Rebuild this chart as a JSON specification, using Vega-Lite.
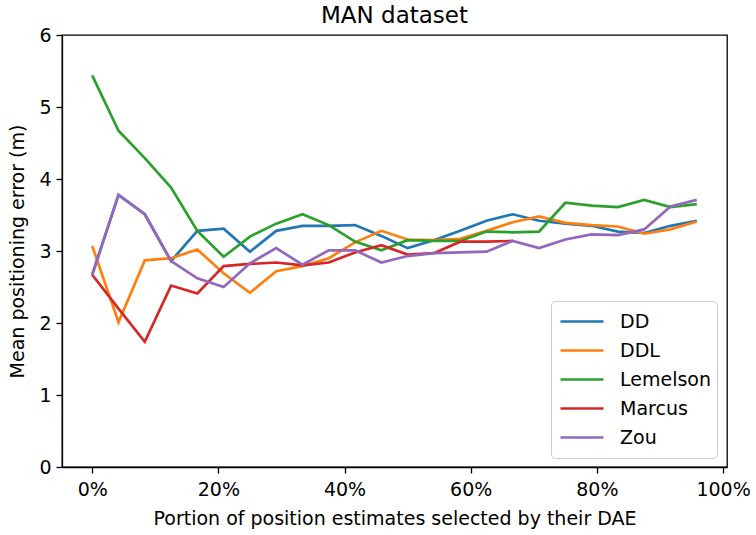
{
  "$schema": "https://vega.github.io/schema/vega-lite/v6.json",
  "width": 665,
  "height": 432,
  "autosize": {"type": "none"},
  "padding": {"left": 62, "top": 35, "right": 29, "bottom": 68},
  "background": "white",
  "title": {"text": "MAN dataset", "fontSize": 23, "fontWeight": "normal", "font": "DejaVu Sans", "color": "black", "offset": -2, "anchor": "middle"},
  "config": {
    "view": {"stroke": "black", "strokeWidth": 1.3},
    "axis": {"grid": false, "domainColor": "black", "tickColor": "black", "labelColor": "black", "titleColor": "black", "labelFont": "DejaVu Sans", "titleFont": "DejaVu Sans", "labelFontSize": 19, "titleFontSize": 19, "titleFontWeight": "normal", "tickSize": 6, "domainWidth": 1.3, "tickWidth": 1.3, "labelPadding": 5}
  },
  "data": {"values": [
    {"x": 0, "method": "DD", "y": 2.67},
    {"x": 4.1667, "method": "DD", "y": 3.78},
    {"x": 8.3333, "method": "DD", "y": 3.51},
    {"x": 12.5, "method": "DD", "y": 2.86},
    {"x": 16.6667, "method": "DD", "y": 3.28},
    {"x": 20.8333, "method": "DD", "y": 3.31},
    {"x": 25, "method": "DD", "y": 2.99},
    {"x": 29.1667, "method": "DD", "y": 3.28},
    {"x": 33.3333, "method": "DD", "y": 3.35},
    {"x": 37.5, "method": "DD", "y": 3.35},
    {"x": 41.6667, "method": "DD", "y": 3.36},
    {"x": 45.8333, "method": "DD", "y": 3.21},
    {"x": 50, "method": "DD", "y": 3.04},
    {"x": 54.1667, "method": "DD", "y": 3.15},
    {"x": 58.3333, "method": "DD", "y": 3.28},
    {"x": 62.5, "method": "DD", "y": 3.42},
    {"x": 66.6667, "method": "DD", "y": 3.51},
    {"x": 70.8333, "method": "DD", "y": 3.42},
    {"x": 75, "method": "DD", "y": 3.38},
    {"x": 79.1667, "method": "DD", "y": 3.35},
    {"x": 83.3333, "method": "DD", "y": 3.27},
    {"x": 87.5, "method": "DD", "y": 3.25},
    {"x": 91.6667, "method": "DD", "y": 3.35},
    {"x": 95.8333, "method": "DD", "y": 3.42},
    {"x": 0, "method": "DDL", "y": 3.07},
    {"x": 4.1667, "method": "DDL", "y": 2.01},
    {"x": 8.3333, "method": "DDL", "y": 2.87},
    {"x": 12.5, "method": "DDL", "y": 2.9},
    {"x": 16.6667, "method": "DDL", "y": 3.02},
    {"x": 20.8333, "method": "DDL", "y": 2.69},
    {"x": 25, "method": "DDL", "y": 2.42},
    {"x": 29.1667, "method": "DDL", "y": 2.72},
    {"x": 33.3333, "method": "DDL", "y": 2.79},
    {"x": 37.5, "method": "DDL", "y": 2.9},
    {"x": 41.6667, "method": "DDL", "y": 3.12},
    {"x": 45.8333, "method": "DDL", "y": 3.28},
    {"x": 50, "method": "DDL", "y": 3.16},
    {"x": 54.1667, "method": "DDL", "y": 3.15},
    {"x": 58.3333, "method": "DDL", "y": 3.17},
    {"x": 62.5, "method": "DDL", "y": 3.28},
    {"x": 66.6667, "method": "DDL", "y": 3.4},
    {"x": 70.8333, "method": "DDL", "y": 3.48},
    {"x": 75, "method": "DDL", "y": 3.39},
    {"x": 79.1667, "method": "DDL", "y": 3.36},
    {"x": 83.3333, "method": "DDL", "y": 3.34},
    {"x": 87.5, "method": "DDL", "y": 3.24},
    {"x": 91.6667, "method": "DDL", "y": 3.3},
    {"x": 95.8333, "method": "DDL", "y": 3.41},
    {"x": 0, "method": "Lemelson", "y": 5.44},
    {"x": 4.1667, "method": "Lemelson", "y": 4.67},
    {"x": 8.3333, "method": "Lemelson", "y": 4.29},
    {"x": 12.5, "method": "Lemelson", "y": 3.88},
    {"x": 16.6667, "method": "Lemelson", "y": 3.28},
    {"x": 20.8333, "method": "Lemelson", "y": 2.92},
    {"x": 25, "method": "Lemelson", "y": 3.2},
    {"x": 29.1667, "method": "Lemelson", "y": 3.38},
    {"x": 33.3333, "method": "Lemelson", "y": 3.51},
    {"x": 37.5, "method": "Lemelson", "y": 3.36},
    {"x": 41.6667, "method": "Lemelson", "y": 3.13},
    {"x": 45.8333, "method": "Lemelson", "y": 3.01},
    {"x": 50, "method": "Lemelson", "y": 3.15},
    {"x": 54.1667, "method": "Lemelson", "y": 3.14},
    {"x": 58.3333, "method": "Lemelson", "y": 3.14},
    {"x": 62.5, "method": "Lemelson", "y": 3.27},
    {"x": 66.6667, "method": "Lemelson", "y": 3.26},
    {"x": 70.8333, "method": "Lemelson", "y": 3.27},
    {"x": 75, "method": "Lemelson", "y": 3.67},
    {"x": 79.1667, "method": "Lemelson", "y": 3.63},
    {"x": 83.3333, "method": "Lemelson", "y": 3.61},
    {"x": 87.5, "method": "Lemelson", "y": 3.71},
    {"x": 91.6667, "method": "Lemelson", "y": 3.61},
    {"x": 95.8333, "method": "Lemelson", "y": 3.65},
    {"x": 0, "method": "Marcus", "y": 2.67},
    {"x": 4.1667, "method": "Marcus", "y": 2.2},
    {"x": 8.3333, "method": "Marcus", "y": 1.74},
    {"x": 12.5, "method": "Marcus", "y": 2.52},
    {"x": 16.6667, "method": "Marcus", "y": 2.41},
    {"x": 20.8333, "method": "Marcus", "y": 2.79},
    {"x": 25, "method": "Marcus", "y": 2.82},
    {"x": 29.1667, "method": "Marcus", "y": 2.84},
    {"x": 33.3333, "method": "Marcus", "y": 2.8},
    {"x": 37.5, "method": "Marcus", "y": 2.84},
    {"x": 41.6667, "method": "Marcus", "y": 2.98},
    {"x": 45.8333, "method": "Marcus", "y": 3.08},
    {"x": 50, "method": "Marcus", "y": 2.95},
    {"x": 54.1667, "method": "Marcus", "y": 2.97},
    {"x": 58.3333, "method": "Marcus", "y": 3.13},
    {"x": 62.5, "method": "Marcus", "y": 3.13},
    {"x": 66.6667, "method": "Marcus", "y": 3.14},
    {"x": 0, "method": "Zou", "y": 2.67},
    {"x": 4.1667, "method": "Zou", "y": 3.78},
    {"x": 8.3333, "method": "Zou", "y": 3.51},
    {"x": 12.5, "method": "Zou", "y": 2.86},
    {"x": 16.6667, "method": "Zou", "y": 2.62},
    {"x": 20.8333, "method": "Zou", "y": 2.5},
    {"x": 25, "method": "Zou", "y": 2.83},
    {"x": 29.1667, "method": "Zou", "y": 3.04},
    {"x": 33.3333, "method": "Zou", "y": 2.81},
    {"x": 37.5, "method": "Zou", "y": 3.01},
    {"x": 41.6667, "method": "Zou", "y": 3.01},
    {"x": 45.8333, "method": "Zou", "y": 2.84},
    {"x": 50, "method": "Zou", "y": 2.93},
    {"x": 54.1667, "method": "Zou", "y": 2.97},
    {"x": 58.3333, "method": "Zou", "y": 2.98},
    {"x": 62.5, "method": "Zou", "y": 2.99},
    {"x": 66.6667, "method": "Zou", "y": 3.14},
    {"x": 70.8333, "method": "Zou", "y": 3.04},
    {"x": 75, "method": "Zou", "y": 3.16},
    {"x": 79.1667, "method": "Zou", "y": 3.23},
    {"x": 83.3333, "method": "Zou", "y": 3.22},
    {"x": 87.5, "method": "Zou", "y": 3.3},
    {"x": 91.6667, "method": "Zou", "y": 3.62},
    {"x": 95.8333, "method": "Zou", "y": 3.71}
  ]},
  "mark": {"type": "line", "strokeWidth": 2.7, "clip": true},
  "encoding": {
    "x": {"field": "x", "type": "quantitative", "scale": {"domain": [-4.79, 100.625], "nice": false, "zero": false},
      "axis": {"values": [0, 20, 40, 60, 80, 100], "labelExpr": "datum.value + '%'", "title": "Portion of position estimates selected by their DAE", "titlePadding": 10, "labelPadding": 7}},
    "y": {"field": "y", "type": "quantitative", "scale": {"domain": [0, 6], "nice": false},
      "axis": {"values": [0, 1, 2, 3, 4, 5, 6], "title": "Mean positioning error (m)", "titlePadding": 11}},
    "color": {"field": "method", "type": "nominal",
      "scale": {"domain": ["DD", "DDL", "Lemelson", "Marcus", "Zou"], "range": ["#1f77b4", "#ff7f0e", "#2ca02c", "#d62728", "#9467bd"]},
      "legend": {"title": null, "orient": "none", "legendX": 489, "legendY": 266, "symbolType": "stroke", "symbolSize": 1850, "symbolStrokeWidth": 2.7, "symbolOffset": 2, "labelFontSize": 19, "labelFont": "DejaVu Sans", "labelColor": "black", "clipHeight": 29, "rowPadding": 0, "padding": 6, "strokeColor": "#cccccc", "fillColor": "white", "cornerRadius": 4, "labelOffset": 15, "labelLimit": 200}},
    "order": {"field": "x", "type": "quantitative"}
  }
}
